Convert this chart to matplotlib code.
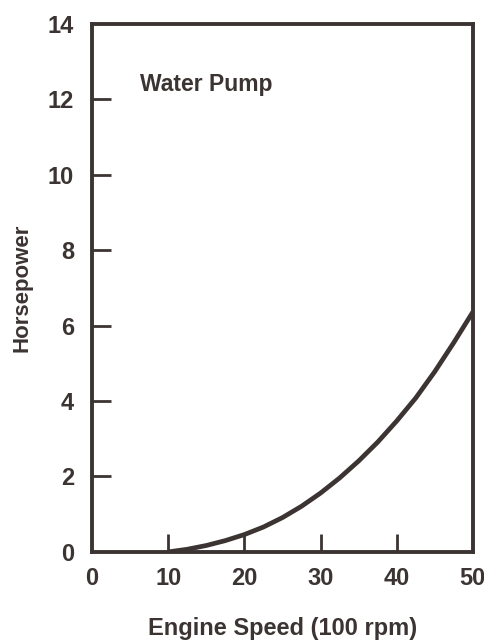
import matplotlib
matplotlib.use("Agg")
import matplotlib.pyplot as plt

# engine speed (100 rpm) vs water pump horsepower
speed = [10, 12.5, 15, 17.5, 20, 22.5, 25, 27.5, 30, 32.5, 35, 37.5, 40, 42.5, 45, 47.5, 50]
hp = [0.0, 0.07, 0.17, 0.30, 0.46, 0.66, 0.91, 1.21, 1.56, 1.96, 2.41, 2.91, 3.47, 4.08, 4.78, 5.55, 6.36]

x_ticks = [0, 10, 20, 30, 40, 50]
y_ticks = [0, 2, 4, 6, 8, 10, 12, 14]

ink = "#3b3432"
plt.rcParams["font.family"] = ["Liberation Sans", "DejaVu Sans"]
plt.rcParams["font.weight"] = "bold"
plt.rcParams["axes.labelweight"] = "bold"

fig = plt.figure(figsize=(4.85, 6.41), dpi=100)
ax = fig.add_axes([0.19, 0.139, 0.785, 0.824])

ax.plot(speed, hp, color=ink, lw=3.4, solid_capstyle="butt", solid_joinstyle="round")

ax.set_xlim(0, 50)
ax.set_ylim(0, 14)
ax.set_xticks(x_ticks)
ax.set_yticks(y_ticks)
ax.tick_params(axis="x", direction="in", length=13, width=2.0, color=ink,
               labelsize=17, labelcolor=ink, pad=11)
ax.tick_params(axis="y", direction="in", length=14, width=2.0, color=ink,
               labelsize=17, labelcolor=ink, pad=13)
# hide the end ticks that sit on the frame
for t in (ax.xaxis.get_major_ticks()[0], ax.xaxis.get_major_ticks()[-1],
          ax.yaxis.get_major_ticks()[0], ax.yaxis.get_major_ticks()[-1]):
    t.tick1line.set_visible(False)

for sp in ax.spines.values():
    sp.set_color(ink)
    sp.set_linewidth(2.8)

ax.set_xlabel("Engine Speed (100 rpm)", fontsize=17, color=ink, labelpad=19)
ax.set_ylabel("Horsepower", fontsize=16, color=ink, labelpad=11)
ax.text(0.125, 0.885, "Water Pump", transform=ax.transAxes, fontsize=16.5,
        color=ink, fontweight="bold", va="center")

fig.savefig("out.png", dpi=100)
